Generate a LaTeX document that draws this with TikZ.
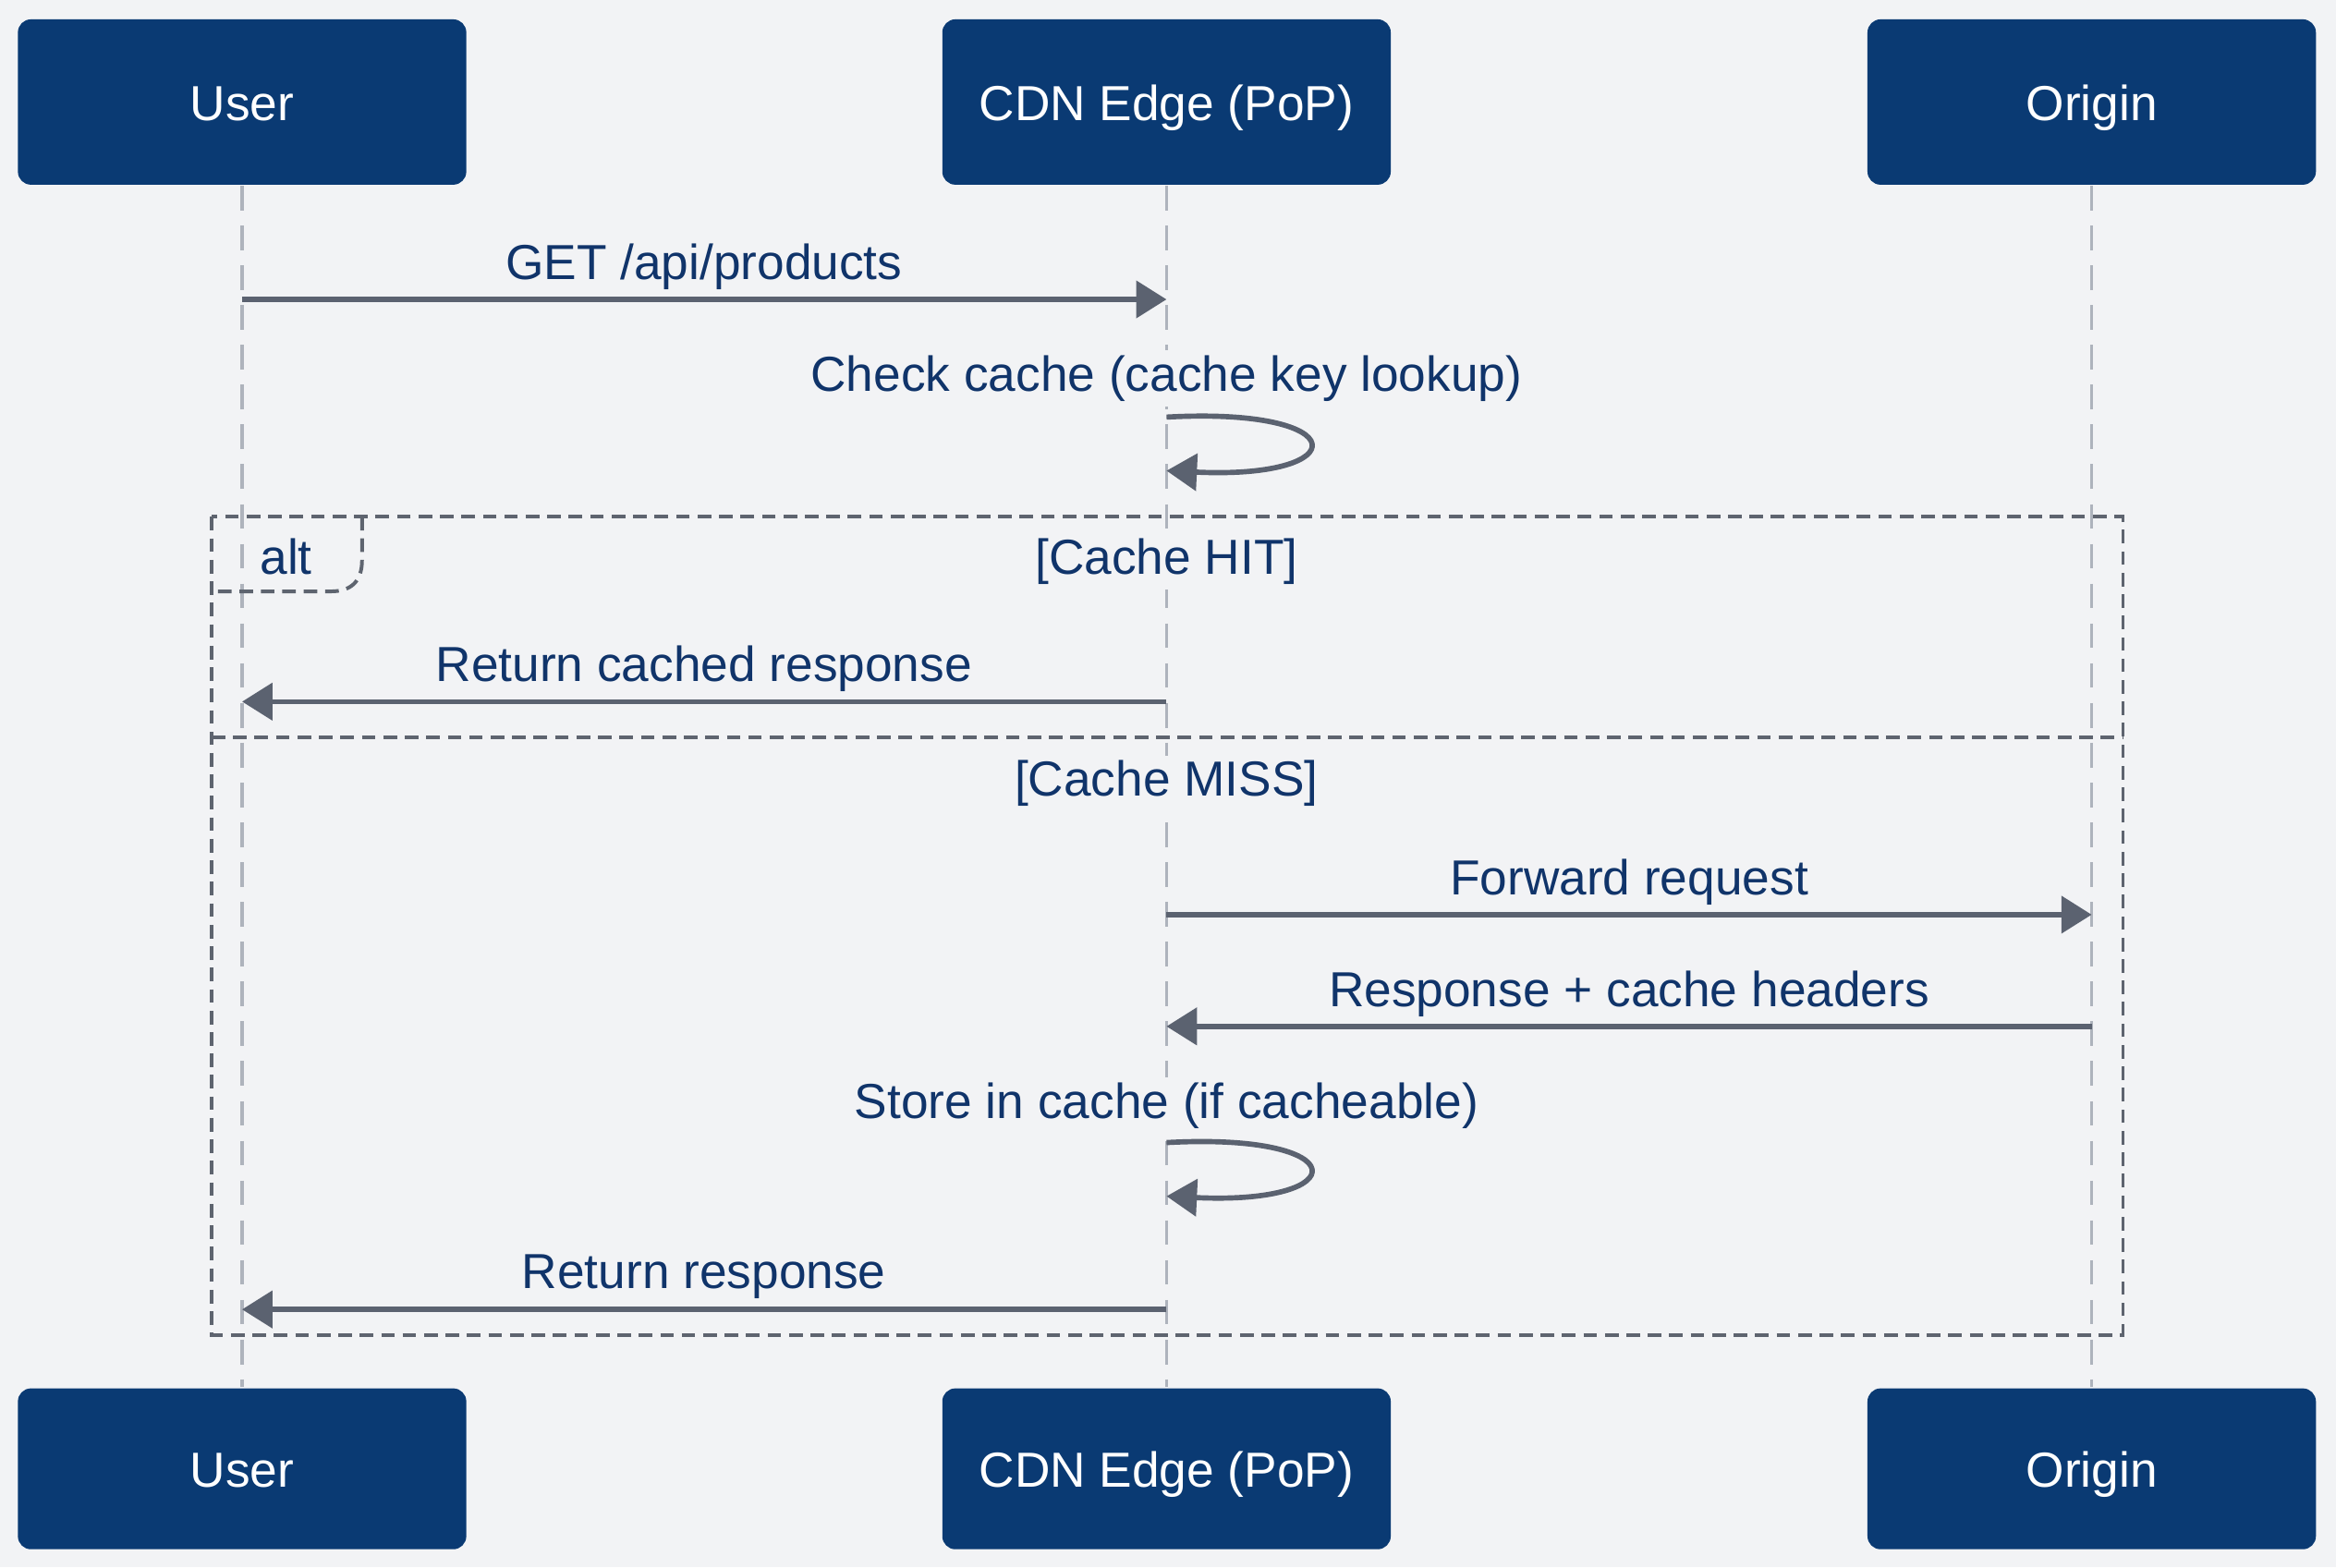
\documentclass[tikz,border=0pt]{standalone}
\usepackage{fontspec}
\setmainfont{Liberation Sans}
\usepackage{xcolor}
\usepackage{tikz}
\usetikzlibrary{arrows.meta}

\definecolor{bgcol}{HTML}{F2F3F5}
\definecolor{boxblue}{HTML}{0A3A73}
\definecolor{txtblue}{HTML}{10346A}
\definecolor{msggray}{HTML}{5B6270}
\definecolor{lifegray}{HTML}{AEB3BC}
\definecolor{framegray}{HTML}{5E646F}

\tikzset{
  actor/.style={fill=boxblue, rounded corners=2.5pt, minimum width=3.01cm,
    minimum height=1.1cm, inner sep=0pt, text=white,
    text height=0.716em, text depth=0pt,
    font=\fontsize{9.4}{11}\selectfont},
  lifeline/.style={draw=lifegray, line width=0.6pt, dash pattern=on 4.7pt off 2.9pt},
  msg/.style={draw=msggray, line width=1pt,
    -{Triangle[length=5.8pt,width=7pt]}},
  msglabel/.style={fill=bgcol, text=txtblue, inner sep=1pt,
    font=\fontsize{9.4}{11}\selectfont},
  frameline/.style={draw=framegray, line width=0.7pt, dash pattern=on 2.6pt off 1.5pt},
}

\begin{document}
\begin{tikzpicture}[>=latex]
\fill[bgcol] (0,0) rectangle (15.68,-10.52);
\useasboundingbox (0,0) rectangle (15.68,-10.52);

% ===== participants =====
\node[actor, minimum height=1.11cm] (userT)   at (1.625,-0.685) {User};
\node[actor, minimum height=1.11cm] (cdnT)    at (7.83,-0.685)  {CDN Edge (PoP)};
\node[actor, minimum height=1.11cm] (originT) at (14.04,-0.685) {Origin};
\node[actor, minimum height=1.08cm] (userB)   at (1.625,-9.86)  {User};
\node[actor, minimum height=1.08cm] (cdnB)    at (7.83,-9.86)   {CDN Edge (PoP)};
\node[actor, minimum height=1.08cm] (originB) at (14.04,-9.86)  {Origin};

% ===== lifelines =====
\draw[lifeline] (userT) -- (userB);
\draw[lifeline] (cdnT) -- (cdnB);
\draw[lifeline] (originT) -- (originB);

% ===== alt frame =====
\coordinate (altNW) at (1.42,-3.47);
\coordinate (altSE) at (14.25,-8.96);
\draw[frameline] (altNW) rectangle (altSE);
\draw[frameline] (altNW |- 0,-4.95) -- (altSE |- 0,-4.95);   % else separator
\draw[frameline] (2.43,-3.47) -- (2.43,-3.76)
  .. controls (2.43,-3.90) and (2.36,-3.97) .. (2.22,-3.97) -- (1.42,-3.97);
\node[text=txtblue, font=\fontsize{9.4}{11}\selectfont] (altlbl) at (1.92,-3.74) {alt};
\node[msglabel] (hit)  at (7.83,-3.77) {[Cache HIT]};
\node[msglabel] (miss) at (7.83,-5.26) {[Cache MISS]};

% ===== message end points =====
\coordinate (u1) at (userT |- 0,-2.01);
\coordinate (c1) at (cdnT |- 0,-2.01);
\coordinate (c2a) at (cdnT |- 0,-2.80);
\coordinate (c2b) at (cdnT |- 0,-3.16);
\coordinate (c3) at (cdnT |- 0,-4.71);
\coordinate (u3) at (userT |- 0,-4.71);
\coordinate (c4) at (cdnT |- 0,-6.14);
\coordinate (o4) at (originT |- 0,-6.14);
\coordinate (o5) at (originT |- 0,-6.89);
\coordinate (c5) at (cdnT |- 0,-6.89);
\coordinate (c6a) at (cdnT |- 0,-7.67);
\coordinate (c6b) at (cdnT |- 0,-8.03);
\coordinate (c7) at (cdnT |- 0,-8.79);
\coordinate (u7) at (userT |- 0,-8.79);

% ===== messages =====
\draw[msg] (u1) -- (c1);
\node[msglabel] (m1) at (4.725,-1.79) {GET /api/products};

\draw[msg] (c2a) .. controls (9.1,-2.73) and (9.1,-3.22) .. (c2b);
\node[msglabel] (m2) at (7.83,-2.54) {Check cache (cache key lookup)};

\draw[msg] (c3) -- (u3);
\node[msglabel] (m3) at (4.725,-4.49) {Return cached response};

\draw[msg] (c4) -- (o4);
\node[msglabel] (m4) at (10.935,-5.92) {Forward request};

\draw[msg] (o5) -- (c5);
\node[msglabel] (m5) at (10.935,-6.67) {Response + cache headers};

\draw[msg] (c6a) .. controls (9.1,-7.60) and (9.1,-8.09) .. (c6b);
\node[msglabel] (m6) at (7.83,-7.42) {Store in cache (if cacheable)};

\draw[msg] (c7) -- (u7);
\node[msglabel] (m7) at (4.725,-8.57) {Return response};
\end{tikzpicture}
\end{document}
